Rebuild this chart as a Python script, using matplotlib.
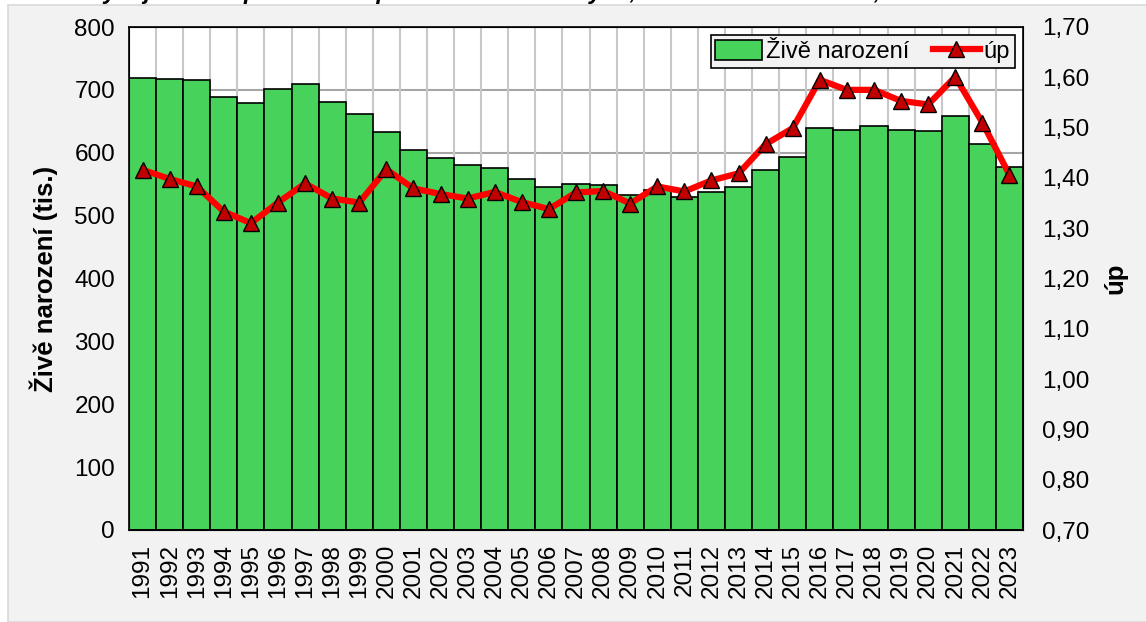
import numpy as np
import matplotlib.pyplot as plt
from matplotlib.patches import Rectangle

plt.rcParams['font.family'] = ['Liberation Sans', 'DejaVu Sans']

# data
years = list(range(1991, 2024))
zive_narozeni = [719, 718, 715, 689, 679, 701, 710, 681, 661, 633,
                 605, 592, 580, 576, 558, 545, 551, 548, 533, 541,
                 529, 537, 545, 572, 594, 640, 636, 642, 636, 635,
                 659, 614, 578]
up = [1.416, 1.398, 1.383, 1.333, 1.310, 1.351, 1.389, 1.359, 1.351, 1.417,
      1.379, 1.368, 1.359, 1.372, 1.352, 1.338, 1.371, 1.374, 1.349, 1.383,
      1.373, 1.395, 1.409, 1.467, 1.499, 1.595, 1.575, 1.575, 1.553, 1.546,
      1.601, 1.510, 1.406]

W, H = 1146, 622
fig = plt.figure(figsize=(W / 100, H / 100), dpi=100)
fig.patch.set_facecolor('white')

# grey panel behind the chart
fig.patches.append(Rectangle((8 / W, 0), 1.0, 1 - 5 / H, transform=fig.transFigure,
                             facecolor='#f2f2f2', edgecolor='#d9d9d9', lw=1.2, zorder=-10))
# title of the source page, cut off at the top like in the reference
fig.text(5 / W, 1 + 9 / H, 'Graf 1: Vývoj úhrnné plodnosti a počtu živě narozených, '
         'územní struktura ČR, 1991–2023',
         fontsize=17, fontweight='bold', style='italic', va='center', ha='left')

ax = fig.add_axes([129 / W, 1 - 530 / H, (1023 - 129) / W, (530 - 27) / H])
ax.set_facecolor('white')
x = np.arange(len(years))

ax.bar(x, zive_narozeni, width=1.0, color='#47d35b', edgecolor='black', lw=1.2,
       label='Živě narození', zorder=2)
ax.set_xlim(-0.5, len(years) - 0.5)
ax.set_ylim(0, 800)
ax.set_yticks(range(0, 801, 100))
ax.set_xticks(x)
ax.set_xticklabels([str(y) for y in years], rotation=90)
ax.tick_params(length=0, labelsize=17.5)
ax.tick_params(axis='x', pad=10)
ax.tick_params(axis='y', pad=10)
ax.set_ylabel('Živě narození (tis.)', fontsize=18.5, fontweight='bold', labelpad=12)

# grid: horizontal at major ticks, vertical at category boundaries
for v in range(100, 800, 100):
    ax.axhline(v, color='#a6a6a6', lw=1.5, zorder=1)
for b in np.arange(0.5, len(years) - 0.5, 1):
    ax.axvline(b, color='#c8c8c8', lw=1.5, zorder=1)
for s in ax.spines.values():
    s.set_color('black')
    s.set_linewidth(1.2)

ax2 = ax.twinx()
ax2.plot(x, up, color='#ff0000', lw=4.5, marker='^', markersize=12,
         markerfacecolor='#c00000', markeredgecolor='black', markeredgewidth=1,
         label='úp', zorder=5)
ax2.set_ylim(0.70, 1.70)
ticks = np.round(np.arange(0.70, 1.701, 0.10), 2)
ax2.set_yticks(ticks)
ax2.set_yticklabels([f'{t:.2f}'.replace('.', ',') for t in ticks])
ax2.tick_params(length=0, labelsize=17.5, pad=14)
ax2.set_ylabel('úp', fontsize=18.5, fontweight='bold', labelpad=10)

h1, l1 = ax.get_legend_handles_labels()
h2, l2 = ax2.get_legend_handles_labels()
leg = ax2.legend(h1 + h2, l1 + l2, loc='upper right', ncol=2, fontsize=17,
                 frameon=True, fancybox=False, edgecolor='black', facecolor='#f2f2f2',
                 framealpha=1, borderpad=0.2, handlelength=2.0, handleheight=0.9,
                 handletextpad=0.15, columnspacing=1.0, borderaxespad=0.35)
leg.get_frame().set_linewidth(1.2)

fig.savefig('out.png', dpi=100, facecolor=fig.get_facecolor())
